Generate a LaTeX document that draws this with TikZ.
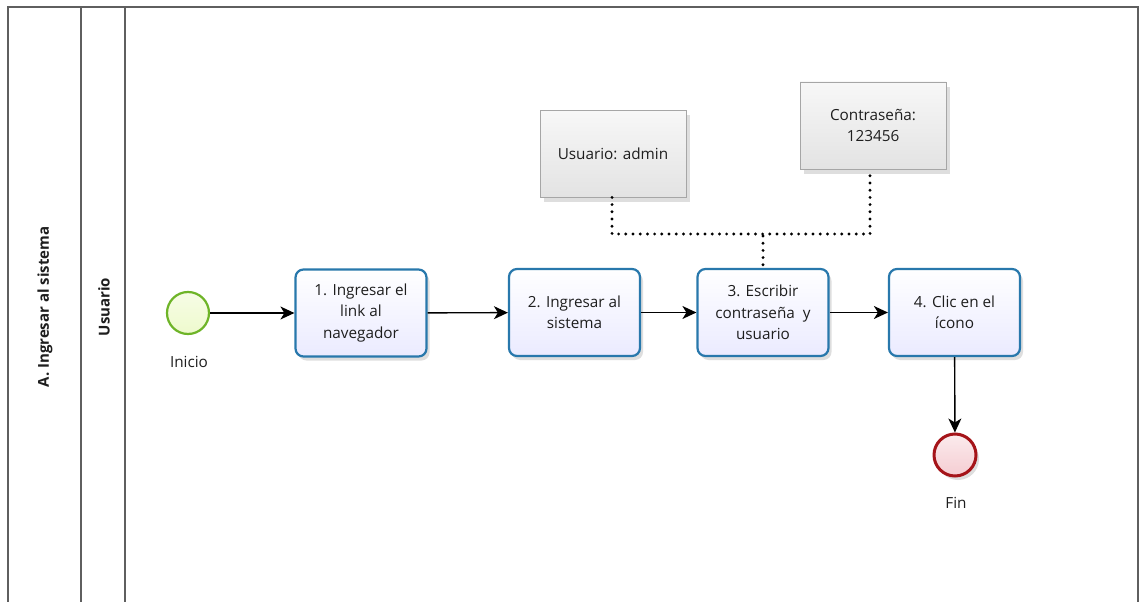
\documentclass[tikz,border=0pt]{standalone}
\usepackage{fontspec}
\setmainfont{Open Sans}
\usetikzlibrary{arrows.meta,shadows,calc}
\definecolor{taskblue}{RGB}{40,120,172}
\definecolor{startgreen}{RGB}{110,180,40}
\definecolor{startfill}{RGB}{238,250,205}
\definecolor{endred}{RGB}{165,20,25}
\definecolor{endfill}{RGB}{245,205,210}
\definecolor{txt}{RGB}{30,30,30}
\definecolor{lanegray}{RGB}{95,95,95}
\tikzset{
  task/.style={draw=taskblue, line width=2.2pt, rounded corners=8pt,
    top color=white, bottom color=blue!8!white, minimum width=131pt, minimum height=87pt,
    align=center, font=\fontsize{15.3}{21.5}\selectfont, text=txt,
    drop shadow={shadow xshift=3pt, shadow yshift=-4pt, fill=black!25, opacity=0.5}},
  note/.style={draw=gray!70, line width=0.8pt, top color=gray!6, bottom color=gray!22,
    minimum width=146pt, minimum height=87pt, align=center,
    font=\fontsize{15.3}{21.5}\selectfont, text=txt,
    drop shadow={shadow xshift=4pt, shadow yshift=-5pt, fill=black!25, opacity=0.5}},
  startev/.style={circle, draw=startgreen, line width=2.2pt, top color=startfill!50, bottom color=startfill, minimum size=42pt, inner sep=0pt},
  endev/.style={circle, draw=endred, line width=3pt, top color=endfill!40, bottom color=endfill, minimum size=42pt, inner sep=0pt,
    drop shadow={shadow xshift=3pt, shadow yshift=-4pt, fill=black!25, opacity=0.5}},
  lbl/.style={font=\fontsize{15.3}{18}\selectfont, text=txt},
  flow/.style={-{Stealth[length=14pt,width=13pt,inset=4pt]}, line width=1.4pt, black},
  assoc/.style={line width=3.2pt, line cap=round, dash pattern=on 0pt off 7.2pt, black},
  lane/.style={draw=lanegray, line width=1.3pt},
  lanelbl/.style={rotate=90, font=\bfseries\fontsize{15}{18}\selectfont, text=txt}
}
\begin{document}
\begin{tikzpicture}[x=1pt,y=-1pt]
\useasboundingbox (0,0) rectangle (1141,602);
\fill[white] (0,0) rectangle (1141,602);
% pool and lanes
\draw[lane] (8,602) -- (8,7) -- (1138,7) -- (1138,602);
\draw[lane] (81,7) -- (81,602);
\draw[lane] (125,7) -- (125,602);
\node[lanelbl] (pool) at (45,307) {A. Ingresar al sistema};
\node[lanelbl] (lanename) at (104,307) {Usuario};
% events
\node[startev] (inicio) at (188,313) {};
\node[lbl] (inicioL) at (189,362) {Inicio};
\node[endev] (fin) at (955,455) {};
\node[lbl] (finL) at (956,503) {Fin};
% tasks
\node[task] (t1) at (361,313) {1. Ingresar el\\link al\\navegador};
\node[task] (t2) at (574.5,312.5) {2. Ingresar al\\sistema};
\node[task] (t3) at (763,312.5) {3. Escribir\\contraseña~ y\\usuario};
\node[task] (t4) at (954.5,312.5) {4. Clic en el\\ícono};
% notes
\node[note] (n1) at (613,153.5) {Usuario: admin};
\node[note] (n2) at (873,125.5) {Contraseña:\\123456};
% flows
\draw[flow] (inicio) -- (t1);
\draw[flow] (t1) -- (t2);
\draw[flow] (t2) -- (t3);
\draw[flow] (t3) -- (t4);
\draw[flow] (t4) -- (fin);
% associations
\coordinate (j1) at (612,234);
\coordinate (j2) at (870,234);
\coordinate (jm) at (763,236);
\draw[assoc] (n1.south -| j1) -- (j1) -- (j2) -- (n2.south -| j2);
\draw[assoc] (jm) -- (t3.north);
\end{tikzpicture}
\end{document}
